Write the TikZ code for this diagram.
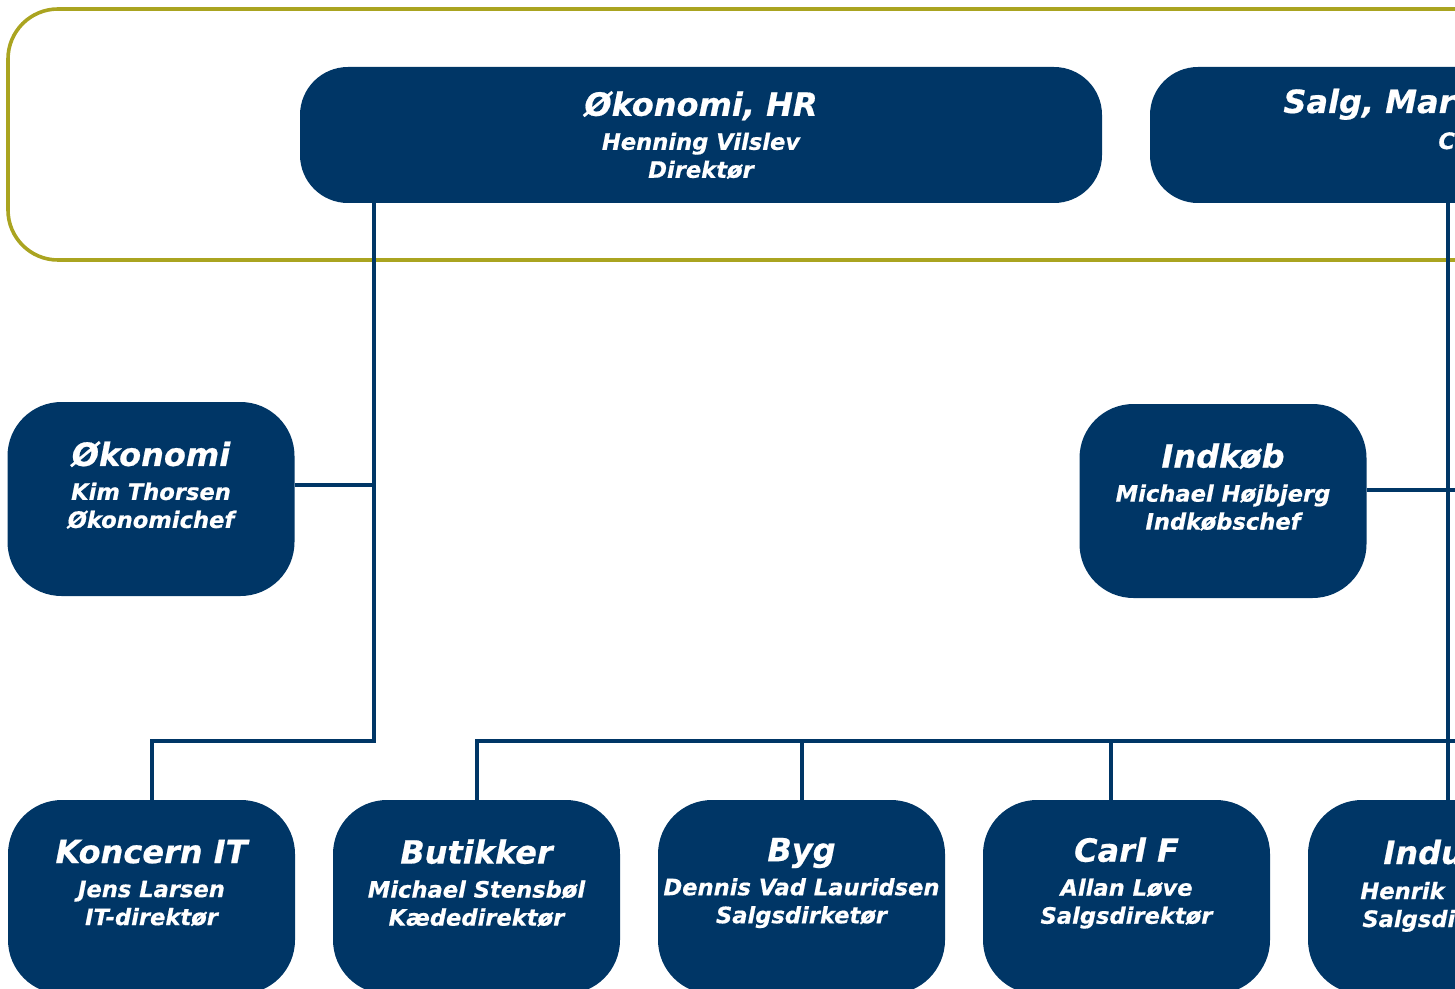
\documentclass[tikz,border=0pt]{standalone}
\usepackage{fontspec}
\setmainfont{DejaVu Sans}[BoldItalicFeatures={FakeBold=0.6}]
\usetikzlibrary{positioning}

\definecolor{navy}{RGB}{0,54,102}
\definecolor{olive}{RGB}{170,164,32}
\newcommand{\unittext}[3]{{\fontsize{16}{18}\selectfont #1}\\[3pt]#2\\#3}

\begin{document}
\begin{tikzpicture}[
        x = 0.5pt, y = -0.5pt,
        unit/.style = {
            fill=navy,
            rounded corners = #1,
            inner sep = 0pt,
            outer sep = 0pt,
            minimum width = 143.5pt,
            minimum height = 97pt
        },
        unit/.default = 27pt,
        wide/.style = {
            unit=24pt,
            minimum width = 401pt,
            minimum height = 68pt
        },
        txt/.style = {
            text=white,
            align=center,
            inner sep = 0pt,
            font=\bfseries\itshape\fontsize{11.3}{14}\selectfont
        },
        link/.style = {draw=navy, line width=2pt},
        node distance = {19pt}
    ]
    \path[use as bounding box, clip] (0,0) rectangle (1455,989);

    % ledelse
    \draw[olive, line width=1.8pt, rounded corners=25pt] (8,9) rectangle (1800,260);
    \node[wide, label={[txt]center:\unittext{Økonomi, HR}{Henning Vilslev}{Direktør}}] (hr) at (701,135) {};
    \node[wide, right=24pt of hr] (salg) {};
    \node[txt, anchor=base west] at (1283,113) {\fontsize{16}{18}\selectfont Salg, Mark};
    \node[txt, anchor=base west] at (1438,149) {C};

    % stabe
    \node[unit, label={[txt, yshift=7pt]center:\unittext{Økonomi}{Kim Thorsen}{Økonomichef}}] (oek) at (151,499) {};
    \node[unit, label={[txt, yshift=7pt]center:\unittext{Indkøb}{Michael Højbjerg}{Indkøbschef}}] (indk) at (1223,501) {};

    % forretningsenheder
    \node[unit, label={[txt, yshift=7pt]center:\unittext{Koncern IT}{Jens Larsen}{IT-direktør}}] (kit) at (151.5,897) {};
    \node[unit, right=of kit, label={[txt, yshift=7pt]center:\unittext{Butikker}{Michael Stensbøl}{Kædedirektør}}] (butik) {};
    \node[unit, right=of butik, label={[txt, yshift=7pt]center:\unittext{Byg}{Dennis Vad Lauridsen}{Salgsdirketør}}] (byg) {};
    \node[unit, right=of byg, label={[txt, yshift=7pt]center:\unittext{Carl F}{Allan Løve}{Salgsdirektør}}] (carl) {};
    \node[unit, right=of carl] (indu) {};
    \node[txt, anchor=base west] at (1383,864) {\fontsize{16}{18}\selectfont Indu};
    \node[txt, anchor=base west] at (1360,899) {Henrik};
    \node[txt, anchor=base west] at (1362,927) {Salgsdi};

    \coordinate (hrleg) at (374,741);
    \coordinate (edge) at (1500,741);
    \coordinate (salgleg) at ([xshift=-2pt]indu.north);

    \draw[link] (hrleg |- hr.south) -- (hrleg) -| (kit.north);
    \draw[link] ([yshift=7pt]oek.east) -- ([yshift=7pt]oek.east -| hrleg);

    \draw[link] (salgleg |- salg.south) -- (salgleg);
    \draw[link] ([yshift=5.5pt]indk.east) -- ([yshift=5.5pt]indk.east -| edge);
    \draw[link] (butik.north) -- (butik.north |- edge) -- (edge);
    \draw[link] (byg.north) -- (byg.north |- edge);
    \draw[link] ([xshift=-8pt]carl.north) -- ([xshift=-8pt]carl.north |- edge);

\end{tikzpicture}
\end{document}
